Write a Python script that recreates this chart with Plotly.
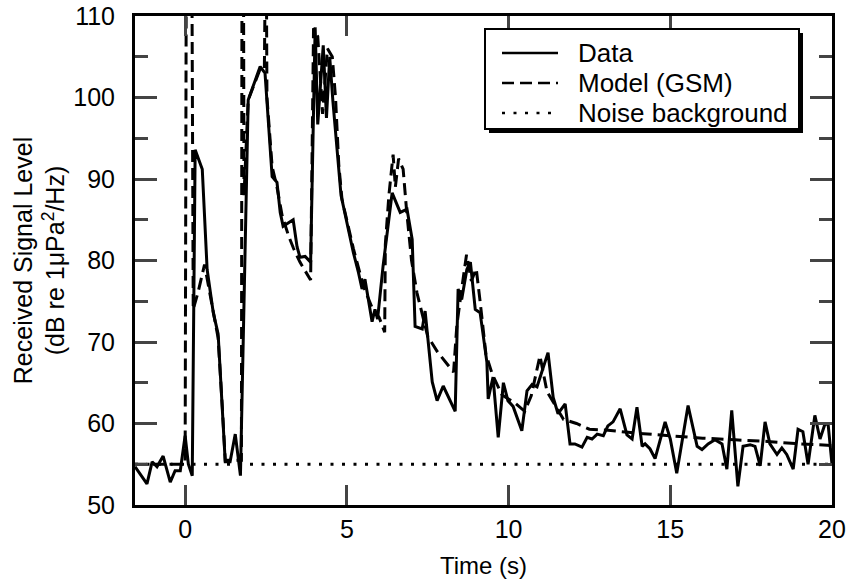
import plotly.graph_objects as go

# ---- Data (solid) ----
time_data = [-1.55, -1.18, -1.02, -0.87, -0.68, -0.46, -0.31, -0.15, 0.0, 0.1, 0.22,
             0.31, 0.53, 0.68, 0.87, 1.02, 1.24, 1.39, 1.55, 1.71, 1.95, 2.32, 2.47,
             2.69, 2.84, 2.94, 3.03, 3.34, 3.46, 3.55, 3.71, 3.88, 4.02, 4.1, 4.27,
             4.37, 4.47, 4.57, 4.82, 5.2, 5.36, 5.47, 5.56, 5.78, 5.87, 5.95, 6.12,
             6.4, 6.65, 6.86, 7.02, 7.11, 7.33, 7.42, 7.64, 7.79, 7.98, 8.35, 8.44,
             8.55, 8.71, 8.82, 8.97, 9.12, 9.33, 9.37, 9.52, 9.68, 9.84, 9.98, 10.14,
             10.41, 10.57, 10.73, 10.88, 11.22, 11.38, 11.53, 11.75, 11.9, 12.05,
             12.27, 12.43, 12.58, 12.74, 12.93, 13.07, 13.23, 13.45, 13.66, 13.82,
             13.97, 14.13, 14.22, 14.37, 14.53, 14.84, 15.0, 15.2, 15.55, 15.83,
             15.98, 16.17, 16.38, 16.6, 16.75, 16.9, 17.09, 17.25, 17.47, 17.62,
             17.78, 17.93, 18.08, 18.3, 18.45, 18.6, 18.8, 18.95, 19.1, 19.26,
             19.47, 19.63, 19.78, 19.88, 20.0]
level_data = [54.7, 52.6, 55.3, 54.7, 56.0, 52.8, 54.2, 54.2, 58.5, 55.0, 53.6,
              93.6, 91.2, 78.9, 73.6, 71.0, 55.3, 55.3, 58.7, 53.6, 99.7, 103.8, 103.0,
              90.3, 89.6, 85.9, 84.2, 85.0, 81.7, 80.4, 80.5, 79.8, 108.6, 96.7, 106.4,
              97.5, 105.0, 99.5, 88.0, 81.0, 78.5, 76.5, 77.7, 72.5, 74.0, 72.8, 79.3,
              88.3, 85.9, 86.3, 82.6, 71.9, 71.6, 73.8, 65.1, 62.8, 64.6, 61.5, 76.5,
              75.2, 78.9, 79.8, 74.0, 73.6, 67.5, 63.0, 65.7, 58.3, 65.0, 62.8, 62.1,
              59.1, 64.0, 64.8, 64.5, 68.7, 63.2, 61.2, 62.4, 57.5, 57.5,
              57.1, 58.3, 58.1, 58.7, 58.5, 59.7, 60.2, 61.8, 58.6, 58.1,
              62.0, 57.2, 57.5, 56.9, 55.7, 60.2, 58.1, 53.9, 62.2, 57.2,
              56.8, 57.5, 58.0, 57.5, 54.4, 61.6, 52.3, 57.2, 57.4, 57.2,
              54.8, 60.2, 57.5, 56.2, 57.0, 56.2, 54.4, 59.3, 59.0, 55.0,
              61.0, 58.1, 59.9, 59.9, 55.0]

# ---- Model (GSM, dashed) ----
time_model = [-1.55, 0.0, 0.04, 0.2, 0.25, 0.4, 0.6, 0.87, 1.02, 1.15, 1.24, 1.74,
              1.76, 1.8, 1.82, 1.95, 2.32, 2.45, 2.47, 2.5, 2.53, 2.69, 2.84, 3.0,
              3.2, 3.35, 3.55, 3.88, 3.97, 4.1, 4.25, 4.4, 4.55, 4.65, 4.75, 4.85,
              5.2, 5.5, 5.8, 6.0, 6.17, 6.19, 6.3, 6.43, 6.5, 6.6, 6.74, 6.85, 7.0,
              7.17, 7.5, 7.8, 8.3, 8.4, 8.55, 8.7, 8.85, 9.0, 9.12, 9.3, 9.5, 9.8,
              10.2, 10.5, 10.7, 10.97, 11.19, 11.4, 11.7, 12.1, 12.5, 13.0, 14.0,
              15.0, 16.0, 17.0, 18.0, 19.0, 20.0]
level_model = [55.0, 55.0, 125.0, 125.0, 74.0, 76.1, 79.5, 74.0, 70.5, 62.0, 55.5, 55.5,
               125.0, 125.0, 88.0, 99.7, 103.5, 103.5, 125.0, 125.0, 100.0, 91.5, 89.0, 85.5,
               83.0, 81.5, 79.8, 77.6, 108.5, 107.5, 98.0, 106.0, 105.0, 100.0, 91.8, 87.5,
               81.5, 77.0, 74.0, 73.0, 71.2, 82.0, 88.0, 93.0, 89.0, 92.5, 91.2, 86.0, 80.0,
               76.0, 70.7, 68.8, 66.3, 72.0, 76.5, 80.7, 77.5, 79.0, 75.0, 68.5, 66.0, 63.5,
               62.5, 61.5, 63.4, 68.3, 63.9, 62.5, 60.5, 60.0, 59.3, 59.2, 58.8,
               58.5, 58.2, 58.0, 57.8, 57.5, 57.3]

# ---- Noise background (dotted) ----
time_noise = [-1.55, 20.0]
level_noise = [55.0, 55.0]

x_range = [-1.55, 20.0]
y_range = [50, 110]
x_ticks = [0, 5, 10, 15, 20]
y_ticks = [50, 60, 70, 80, 90, 100, 110]
legend_names = ["Data", "Model (GSM)", "Noise background"]
legend_dashes = ["solid", "12px,6px", "3px,8.5px"]

FONT = "Liberation Sans, Arial, Helvetica, sans-serif"
W, H = 849, 584
ML, MR, MT, MB = 135, 17, 16, 79
PW, PH = W - ML - MR, H - MT - MB


def px_to_paper(px, py):
    return (px - ML) / PW, (H - MB - py) / PH


fig = go.Figure()
fig.add_trace(go.Scatter(x=time_data, y=level_data, mode="lines", name=legend_names[0],
                         line=dict(color="black", width=3)))
fig.add_trace(go.Scatter(x=time_model, y=level_model, mode="lines", name=legend_names[1],
                         line=dict(color="black", width=3, dash=legend_dashes[1])))
fig.add_trace(go.Scatter(x=time_noise, y=level_noise, mode="lines", name=legend_names[2],
                         line=dict(color="black", width=3, dash=legend_dashes[2])))

# ---- custom legend box with drop shadow ----
shapes = []
annotations = []
bx0, by0, bx1, by1 = 485, 29, 799, 129
sx0, sy0 = px_to_paper(bx0 + 4, by0 + 4)
sx1, sy1 = px_to_paper(bx1 + 4, by1 + 4)
shapes.append(dict(type="rect", xref="paper", yref="paper", x0=sx0, y0=sy0, x1=sx1, y1=sy1,
                   fillcolor="black", line=dict(width=0), layer="above"))
x0, y0 = px_to_paper(bx0, by0)
x1, y1 = px_to_paper(bx1, by1)
shapes.append(dict(type="rect", xref="paper", yref="paper", x0=x0, y0=y0, x1=x1, y1=y1,
                   fillcolor="white", line=dict(color="black", width=2), layer="above"))
row_y = [53, 83, 113]
for name, dash, ry in zip(legend_names, legend_dashes, row_y):
    lx0, ly = px_to_paper(502, ry)
    lx1, _ = px_to_paper(558, ry)
    shapes.append(dict(type="line", xref="paper", yref="paper", x0=lx0, y0=ly, x1=lx1, y1=ly,
                       line=dict(color="black", width=2.5, dash=dash), layer="above"))
    tx, _ = px_to_paper(576, ry)
    annotations.append(dict(xref="paper", yref="paper", x=tx, y=ly, text=name,
                            showarrow=False, xanchor="left", yanchor="middle",
                            font=dict(size=26, family=FONT, color="black")))

fig.update_layout(
    width=W, height=H,
    margin=dict(l=ML, r=MR, t=MT, b=MB),
    paper_bgcolor="white", plot_bgcolor="white",
    font=dict(family=FONT, color="black", size=24),
    showlegend=False,
    shapes=shapes,
    annotations=annotations,
)
fig.update_xaxes(range=x_range, tickvals=x_ticks, ticks="inside", ticklen=20, tickwidth=2.5,
                 showline=True, linewidth=3, linecolor="black", mirror="allticks",
                 showgrid=False, zeroline=False, tickfont=dict(size=25),
                 ticklabelstandoff=0, automargin=False,
                 title=dict(text="Time (s)", font=dict(size=24), standoff=16))
fig.update_yaxes(range=y_range, tickvals=y_ticks, ticks="inside", ticklen=22, tickwidth=2.5,
                 showline=True, linewidth=3, linecolor="black", mirror="allticks",
                 showgrid=False, zeroline=False, tickfont=dict(size=25),
                 ticklabelstandoff=12, automargin=False,
                 minor=dict(ticks="inside", ticklen=13, tickwidth=2.5, dtick=5, tick0=0,
                            showgrid=False),
                 title=dict(text="Received Signal Level<br>(dB re 1\u03bcPa<sup>2</sup>/Hz)",
                            font=dict(size=25), standoff=2))

fig.write_html("out.html")
